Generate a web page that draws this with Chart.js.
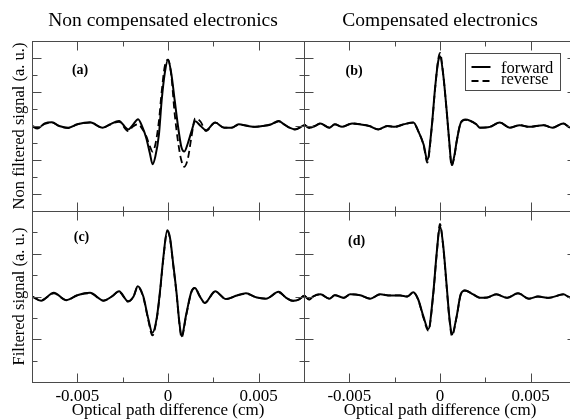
<!DOCTYPE html>
<html>
<head>
<meta charset="utf-8">
<script src="https://cdn.jsdelivr.net/npm/chart.js@4/dist/chart.umd.min.js"></script>
<style>
  html, body { margin: 0; padding: 0; background: #fff; overflow: hidden; width: 570px; height: 419px; }
  body { position: relative; }
  canvas { position: absolute; }
</style>
</head>
<body>
<canvas id="panelA" width="326" height="214" style="left:0;top:0"></canvas>
<canvas id="panelB" width="280" height="214" style="left:300px;top:0"></canvas>
<canvas id="panelC" width="326" height="211" style="left:0;top:208px"></canvas>
<canvas id="panelD" width="280" height="211" style="left:300px;top:208px"></canvas>
<script>
// optical path difference (cm) and signal (a. u.)
const opdA = [-0.0075, -0.0072, -0.0068, -0.0064, -0.0060, -0.0055, -0.0050, -0.0043, -0.0036, -0.0032,
  -0.0027, -0.0022, -0.00195, -0.00165, -0.0014, -0.0012, -0.0010, -0.00085, -0.0007, -0.0005,
  -0.00035, -0.00018, 0, 0.00018, 0.00037, 0.00055, 0.00073, 0.0009, 0.0011, 0.0013,
  0.0015, 0.0018, 0.0021, 0.0026, 0.0031, 0.0035, 0.0039, 0.0044, 0.0048, 0.0052,
  0.0057, 0.0061, 0.0064, 0.0067, 0.0070, 0.0075];
const forwardA = [0.0, -0.15, 0.15, 0.22, 0.0, -0.1, 0.1, 0.22, -0.1, 0.1,
  0.3, -0.2, 0.05, 0.4, -0.1, -0.7, -1.6, -2.25, -1.8, -0.5,
  1.5, 3.1, 3.9, 3.1, 1.5, 0.0, -1.2, -1.5, -1.0, -0.3,
  0.28, 0.0, -0.25, 0.2, -0.1, -0.1, 0.1, 0.0, -0.05, 0.0,
  0.1, 0.3, 0.1, -0.1, -0.2, 0.05];
const reverseA = [0.0, -0.1, 0.12, 0.2, 0.0, -0.12, 0.1, 0.2, -0.1, 0.08,
  0.25, -0.3, -0.05, 0.1, -0.2, -0.6, -1.2, -1.5, -1.1, 0.3,
  2.0, 3.5, 3.9, 3.0, 0.7, -0.9, -2.0, -2.4, -1.9, -0.6,
  0.45, 0.25, -0.3, 0.2, -0.1, -0.1, 0.08, 0.02, -0.05, 0.0,
  0.08, 0.28, 0.1, -0.1, -0.2, 0.05];

const opdB = [-0.0075, -0.0072, -0.0069, -0.0066, -0.0061, -0.0058, -0.0054, -0.00485, -0.0044, -0.0039,
  -0.0034, -0.0029, -0.0025, -0.002, -0.00147, -0.0012, -0.0009, -0.0007, -0.00046, -0.00027,
  -0.0001, 0, 0.00018, 0.00037, 0.00051, 0.00064, 0.0008, 0.00092, 0.00115, 0.0014,
  0.002, 0.0022, 0.00275, 0.0033, 0.00385, 0.0044, 0.0049, 0.0057, 0.0062, 0.0068,
  0.0072, 0.0075];
const forwardB = [0.1, -0.1, 0.0, 0.15, -0.1, 0.1, -0.05, 0.15, 0.1, 0.0,
  -0.2, 0.0, -0.05, 0.1, 0.2, -0.3, -1.1, -2.0, -0.1, 2.25,
  3.8, 4.1, 3.0, 0.87, -0.9, -2.3, -1.7, -0.9, 0.2, 0.38,
  0.1, -0.1, -0.05, 0.2, -0.1, 0.05, -0.05, 0.05, -0.1, 0.15,
  -0.1, -0.05];
const reverseB = [0.1, -0.12, 0.0, 0.15, -0.1, 0.1, -0.05, 0.15, 0.1, 0.0,
  -0.2, 0.0, -0.05, 0.1, 0.2, -0.3, -1.15, -2.15, -0.15, 2.2,
  3.9, 4.3, 3.0, 0.85, -0.95, -2.35, -1.75, -0.9, 0.2, 0.36,
  0.1, -0.1, -0.05, 0.2, -0.1, 0.05, -0.05, 0.05, -0.1, 0.15,
  -0.1, -0.05];

const opdC = [-0.0075, -0.007, -0.0063, -0.0056, -0.005, -0.0043, -0.00355, -0.0031, -0.0027, -0.0022,
  -0.0019, -0.00167, -0.00136, -0.0011, -0.00086, -0.00062, -0.00044, -0.00026, -0.00004, 0.00011,
  0.00029, 0.00048, 0.00062, 0.00075, 0.001, 0.0013, 0.00148, 0.00176, 0.00203, 0.0026,
  0.0032, 0.0038, 0.0043, 0.0049, 0.0054, 0.0061, 0.0065, 0.0069, 0.0072, 0.0075];
const forwardC = [0.0, -0.2, 0.17, -0.17, 0.06, 0.17, -0.19, 0.0, 0.25, -0.22,
  0.0, 0.48, 0.0, -1.0, -1.7, -1.0, 0.25, 1.8, 3.1, 2.75,
  1.5, 0.1, -1.16, -1.86, -0.85, 0.25, 0.4, 0.0, -0.3, 0.25,
  -0.12, 0.05, 0.15, -0.05, -0.1, 0.22, -0.05, -0.2, -0.15, 0.05];
const reverseC = [0.0, -0.18, 0.15, -0.17, 0.06, 0.15, -0.2, 0.0, 0.22, -0.24,
  0.0, 0.45, -0.05, -1.05, -1.82, -1.05, 0.2, 1.75, 3.05, 2.7,
  1.45, 0.05, -1.2, -1.92, -0.9, 0.22, 0.4, 0.0, -0.3, 0.22,
  -0.12, 0.05, 0.13, -0.05, -0.1, 0.2, -0.05, -0.2, -0.15, 0.05];

const opdD = [-0.0075, -0.0072, -0.007, -0.0066, -0.0061, -0.0058, -0.0053, -0.00495, -0.0044, -0.00385,
  -0.0033, -0.00275, -0.0022, -0.0018, -0.00147, -0.0012, -0.00092, -0.00064, -0.00037, -0.00018,
  0, 0.00018, 0.00037, 0.00051, 0.00066, 0.00092, 0.00114, 0.00137, 0.00183, 0.0022,
  0.0026, 0.0031, 0.0037, 0.0043, 0.0049, 0.0054, 0.006, 0.0068, 0.0072, 0.0075];
const forwardD = [0.06, -0.14, 0.0, 0.1, -0.1, 0.06, -0.06, 0.1, 0.06, -0.1,
  0.1, 0.05, 0.05, 0.0, 0.2, -0.14, -0.92, -1.52, 0.17, 2.05,
  3.3, 2.36, 0.48, -0.92, -1.78, -0.92, 0.1, 0.28, 0.1, -0.06,
  -0.05, 0.1, -0.06, 0.15, -0.1, 0.0, -0.06, 0.1, -0.05, 0.0];
const reverseD = [0.06, -0.14, 0.0, 0.1, -0.1, 0.06, -0.06, 0.1, 0.06, -0.1,
  0.1, 0.05, 0.05, 0.0, 0.2, -0.16, -0.98, -1.6, 0.12, 2.0,
  3.4, 2.3, 0.42, -0.98, -1.84, -0.95, 0.08, 0.28, 0.1, -0.06,
  -0.05, 0.1, -0.06, 0.15, -0.1, 0.0, -0.06, 0.1, -0.05, 0.0];

// axes
const xRange = [-0.0075, 0.0075];
const xMajor = [-0.005, 0, 0.005];
const xMinor = [-0.0025, 0.0025];
const xLabels = [-0.005, 0, 0.005];
const yRangeTop = [-5, 5];
const yMajorTop = [-4, -2, 0, 2, 4];
const yMinorTop = [-3, -1, 1, 3];
const yRangeBottom = [-4, 4];
const yMajorBottom = [-2, 0, 2];
const yMinorBottom = [-3, -1, 1, 3];

// text
const columnTitles = ['Non compensated electronics', 'Compensated electronics'];
const rowTitles = ['Non filtered signal (a. u.)', 'Filtered signal (a. u.)'];
const xTitle = 'Optical path difference (cm)';
const seriesNames = ['forward', 'reverse'];
const panelNames = ['(a)', '(b)', '(c)', '(d)'];
const panelNameAt = [[-0.00485, 3.25], [-0.00474, 3.2], [-0.00477, 2.75], [-0.0046, 2.6]];

const serif = '"Liberation Serif", "Times New Roman", serif';
const frameColor = '#4a4a4a';

function points(xs, ys) {
  return xs.map((x, i) => ({x: x, y: ys[i]}));
}

// frame, inward ticks on all four sides and the panel letter
const panelDecor = {
  id: 'panelDecor',
  afterDatasetsDraw(chart, args, opts) {
    const {ctx, chartArea, scales} = chart;
    const L = Math.round(chartArea.left) + 0.5;
    const R = Math.round(chartArea.right) + 0.5;
    const T = Math.round(chartArea.top) + 0.5;
    const B = Math.round(chartArea.bottom) + 0.5;
    ctx.save();
    ctx.strokeStyle = frameColor;
    ctx.lineWidth = 1;
    ctx.strokeRect(L, T, R - L, B - T);
    ctx.beginPath();
    function xTicks(vals, len) {
      vals.forEach(v => {
        const px = Math.round(scales.x.getPixelForValue(v)) + 0.5;
        ctx.moveTo(px, T); ctx.lineTo(px, T + len);
        ctx.moveTo(px, B); ctx.lineTo(px, B - len);
      });
    }
    function yTicks(vals, len) {
      vals.forEach(v => {
        const py = Math.round(scales.y.getPixelForValue(v)) + 0.5;
        ctx.moveTo(L, py); ctx.lineTo(L + len, py);
        ctx.moveTo(R, py); ctx.lineTo(R - len, py);
      });
    }
    xTicks(xMajor, 9);
    xTicks(xMinor, 5);
    yTicks(opts.yMajor, 9);
    yTicks(opts.yMinor, 5);
    ctx.stroke();

    ctx.fillStyle = '#000';
    ctx.font = 'bold 14px ' + serif;
    ctx.textAlign = 'center';
    ctx.textBaseline = 'middle';
    ctx.fillText(opts.name, scales.x.getPixelForValue(opts.nameAt[0]), scales.y.getPixelForValue(opts.nameAt[1]));
    ctx.restore();
  }
};

// boxed key with line samples, top right of panel (b)
const keyBox = {
  id: 'keyBox',
  afterDraw(chart, args, opts) {
    if (!opts.show) return;
    const {ctx, chartArea} = chart;
    const left = Math.round(chartArea.right) - 111 + 0.5;
    const top = Math.round(chartArea.top) + 12 + 0.5;
    ctx.save();
    ctx.fillStyle = '#fff';
    ctx.fillRect(left, top, 95, 37);
    ctx.strokeStyle = frameColor;
    ctx.lineWidth = 1;
    ctx.strokeRect(left, top, 95, 37);
    ctx.font = '16.5px ' + serif;
    ctx.textAlign = 'left';
    ctx.textBaseline = 'alphabetic';
    chart.data.datasets.forEach((ds, i) => {
      const ly = top + 13.5 + i * 14;
      ctx.strokeStyle = ds.borderColor;
      ctx.lineWidth = ds.borderWidth;
      ctx.setLineDash(ds.borderDash || []);
      ctx.beginPath();
      ctx.moveTo(left + 6, ly);
      ctx.lineTo(left + 25, ly);
      ctx.stroke();
      ctx.setLineDash([]);
      ctx.fillStyle = '#000';
      ctx.fillText(ds.label, left + 35.5, top + 19.5 + i * 11);
    });
    ctx.restore();
  }
};

const hidden = { display: false, drawTicks: false };

function makePanel(id, p) {
  return new Chart(document.getElementById(id), {
    type: 'line',
    data: {
      datasets: [
        {
          label: seriesNames[0],
          data: points(p.x, p.forward),
          borderColor: '#000',
          borderWidth: 2,
          pointRadius: 0,
          cubicInterpolationMode: 'monotone'
        },
        {
          label: seriesNames[1],
          data: points(p.x, p.reverse),
          borderColor: '#000',
          borderWidth: 1.8,
          borderDash: [7, 4],
          pointRadius: 0,
          cubicInterpolationMode: 'monotone'
        }
      ]
    },
    options: {
      responsive: false,
      animation: false,
      devicePixelRatio: 1,
      events: [],
      layout: { padding: p.pad },
      plugins: {
        legend: { display: false },
        tooltip: { enabled: false },
        title: {
          display: !!p.title,
          text: p.title || '',
          color: '#000',
          font: { family: serif, size: 19.5, weight: 'normal', lineHeight: 1 },
          padding: { top: 11.5, bottom: 10 }
        },
        panelDecor: { yMajor: p.yMajor, yMinor: p.yMinor, name: p.name, nameAt: p.nameAt },
        keyBox: { show: !!p.key }
      },
      scales: {
        x: {
          type: 'linear',
          min: xRange[0],
          max: xRange[1],
          afterBuildTicks: axis => { axis.ticks = xLabels.map(v => ({ value: v })); },
          afterFit: axis => { axis.height = p.xLabelled ? 37 : 0; },
          grid: hidden,
          border: { display: false },
          ticks: {
            display: !!p.xLabelled,
            padding: 4,
            maxRotation: 0,
            color: '#000',
            font: { family: serif, size: 17 },
            callback: v => String(v)
          },
          title: {
            display: !!p.xLabelled,
            text: xTitle,
            color: '#000',
            font: { family: serif, size: 17, lineHeight: 1 },
            padding: { top: 0, bottom: 0 }
          }
        },
        y: {
          type: 'linear',
          min: p.yRange[0],
          max: p.yRange[1],
          afterFit: axis => { axis.width = p.rowTitle ? 32 : 0; },
          grid: hidden,
          border: { display: false },
          ticks: { display: false },
          title: {
            display: !!p.rowTitle,
            text: p.rowTitle || '',
            color: '#000',
            font: { family: serif, size: 16.5 },
            padding: { top: 10, bottom: 0 }
          }
        },
        // empty strip right of the plot, so the column title centres on the whole canvas
        gap: {
          type: 'linear',
          position: 'right',
          display: !!p.gapRight,
          afterFit: axis => { axis.width = p.gapRight || 0; },
          grid: hidden,
          border: { display: false },
          ticks: { display: false }
        }
      }
    },
    plugins: [panelDecor, keyBox]
  });
}

makePanel('panelA', {
  x: opdA, forward: forwardA, reverse: reverseA,
  title: columnTitles[0], rowTitle: rowTitles[0], xLabelled: false, gapRight: 22,
  yRange: yRangeTop, yMajor: yMajorTop, yMinor: yMinorTop,
  name: panelNames[0], nameAt: panelNameAt[0],
  pad: { left: 0, right: 0, top: 0, bottom: 3 }
});
makePanel('panelB', {
  x: opdB, forward: forwardB, reverse: reverseB,
  title: columnTitles[1], rowTitle: null, xLabelled: false, key: true,
  yRange: yRangeTop, yMajor: yMajorTop, yMinor: yMinorTop,
  name: panelNames[1], nameAt: panelNameAt[1],
  pad: { left: 4, right: 4, top: 0, bottom: 3 }
});
makePanel('panelC', {
  x: opdC, forward: forwardC, reverse: reverseC,
  title: null, rowTitle: rowTitles[1], xLabelled: true,
  yRange: yRangeBottom, yMajor: yMajorBottom, yMinor: yMinorBottom,
  name: panelNames[2], nameAt: panelNameAt[2],
  pad: { left: 0, right: 22, top: 3, bottom: 0 }
});
makePanel('panelD', {
  x: opdD, forward: forwardD, reverse: reverseD,
  title: null, rowTitle: null, xLabelled: true,
  yRange: yRangeBottom, yMajor: yMajorBottom, yMinor: yMinorBottom,
  name: panelNames[3], nameAt: panelNameAt[3],
  pad: { left: 4, right: 4, top: 3, bottom: 0 }
});
</script>
</body>
</html>
